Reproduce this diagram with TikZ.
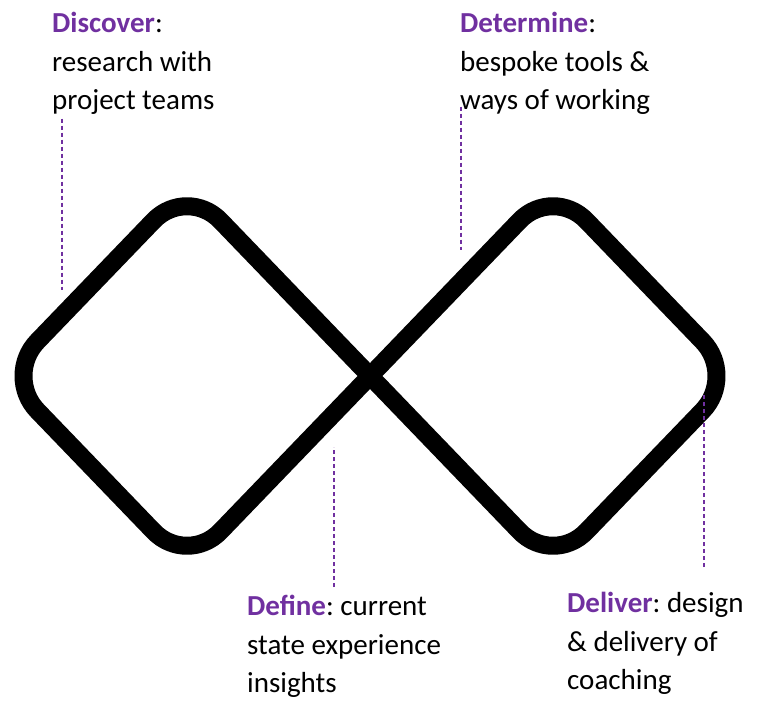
\documentclass[tikz,border=0pt]{standalone}
\usepackage{fontspec}
\setmainfont{Carlito}
\usepackage{xcolor}
\usepackage{tikz}
\usetikzlibrary{calc}

\definecolor{phasepurple}{HTML}{7030A0}
\frenchspacing

\begin{document}
\begin{tikzpicture}[
    x=1pt, y=-1pt,
    loopline/.style={draw=black, line width=18pt, rounded corners=48pt, line join=round},
    phase/.style={anchor=north west, inner sep=0pt, align=left,
                  font=\fontsize{29}{38.5}\selectfont},
    lead/.style={draw=phasepurple, line width=1.6pt, dash pattern=on 4pt off 3pt}
]
\useasboundingbox (0,0) rectangle (770,701);

% --- Corners of the two loops ---
\coordinate (mid) at (370,376);
\coordinate (ltop) at (187,186);
\coordinate (lleft) at (4,376);
\coordinate (lbot) at (187,566);
\coordinate (rtop) at (553,186);
\coordinate (rright) at (736,376);
\coordinate (rbot) at (553,566);

% --- Infinity loop ---
\draw[loopline] (mid) -- (ltop) -- (lleft) -- (lbot) -- (mid)
    -- (rtop) -- (rright) -- (rbot) -- cycle;

% --- Phase labels ---
\node[phase] (discover) at (52,12)
    {\textcolor{phasepurple}{\textbf{Discover}}:\\research with\\project teams};
\node[phase] (determine) at (460,12)
    {\textcolor{phasepurple}{\textbf{Determine}}:\\bespoke tools \&\\ways of working};
\node[phase] (define) at (247,595)
    {\textcolor{phasepurple}{\textbf{Define}}: current\\state experience\\insights};
\node[phase] (deliver) at (567,592)
    {\textcolor{phasepurple}{\textbf{Deliver}}: design\\\& delivery of\\coaching};

% --- Lead lines ---
\coordinate (discfoot) at (62,290);
\coordinate (detfoot) at (461,250);
\coordinate (deftop) at (334,447);
\coordinate (deltop) at (704,395);

\draw[lead] ([xshift=10,yshift=-4]discover.south west) -- (discfoot);
\draw[lead] ([xshift=1,yshift=8]determine.south west) -- (detfoot);
\draw[lead] ([xshift=87,yshift=8]define.north west) -- (deftop);
\draw[lead] ([xshift=137,yshift=25]deliver.north west) -- (deltop);

\end{tikzpicture}
\end{document}
